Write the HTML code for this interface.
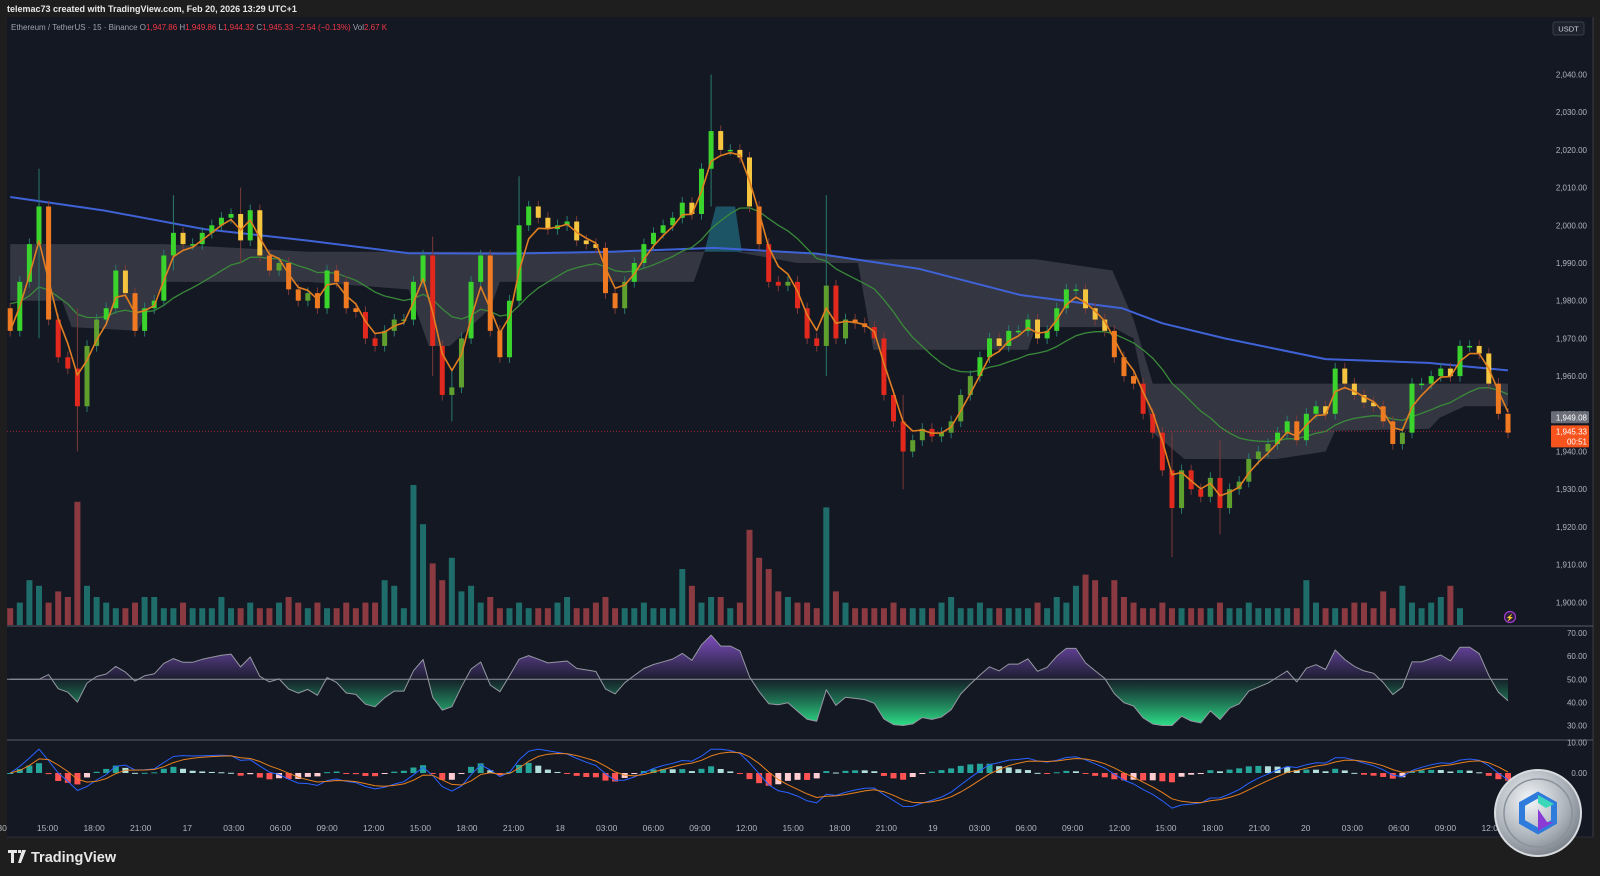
<!DOCTYPE html>
<html><head><meta charset="utf-8"><style>
html,body{margin:0;padding:0;background:#1e1e1f;}
svg{display:block;font-family:"Liberation Sans",sans-serif;}
</style></head><body>
<svg id="chart" width="1600" height="876" viewBox="0 0 1600 876" xmlns="http://www.w3.org/2000/svg">
<defs>
<linearGradient id="rsiUp" x1="0" y1="633" x2="0" y2="679" gradientUnits="userSpaceOnUse"><stop offset="0" stop-color="#8a4fd0" stop-opacity="0.95"/><stop offset="1" stop-color="#7e57c2" stop-opacity="0.08"/></linearGradient>
<linearGradient id="rsiDn" x1="0" y1="679" x2="0" y2="727" gradientUnits="userSpaceOnUse"><stop offset="0" stop-color="#26c281" stop-opacity="0.05"/><stop offset="1" stop-color="#2ee68a" stop-opacity="1"/></linearGradient>
<clipPath id="clipAbove"><rect x="0" y="626" width="1600" height="53"/></clipPath>
<clipPath id="clipBelow"><rect x="0" y="679" width="1600" height="61"/></clipPath>
<clipPath id="clipRsi"><rect x="7" y="627" width="1506" height="112"/></clipPath>
<clipPath id="clipMain"><rect x="7" y="17" width="1506" height="609"/></clipPath>
<clipPath id="clipMacd"><rect x="7" y="741" width="1506" height="78"/></clipPath>
<radialGradient id="coinG" cx="0.4" cy="0.35" r="0.75"><stop offset="0" stop-color="#f4f6f8"/><stop offset="0.6" stop-color="#a9b0b8"/><stop offset="1" stop-color="#6c737c"/></radialGradient>
</defs>
<rect x="0" y="0" width="1600" height="876" fill="#1e1e1f"/>
<text x="7" y="12" font-size="9" font-weight="bold" fill="#e8e8e8">telemac73 created with TradingView.com, Feb 20, 2026 13:29 UTC+1</text>
<rect x="7" y="17" width="1586" height="820" fill="#141823"/>
<text x="11" y="30" font-size="8" fill="#9ea2ad">Ethereum / TetherUS · 15 · Binance  O<tspan fill="#f23645">1,947.86</tspan>  H<tspan fill="#f23645">1,949.86</tspan>  L<tspan fill="#f23645">1,944.32</tspan>  C<tspan fill="#f23645">1,945.33</tspan>  <tspan fill="#f23645">−2.54 (−0.13%)</tspan>  Vol<tspan fill="#f23645">2.67 K</tspan></text>
<rect x="1553" y="22" width="31" height="13" rx="2" fill="#1e222d" stroke="#3a3e4a"/>
<text x="1568.5" y="31.5" font-size="7.5" fill="#d1d4dc" text-anchor="middle">USDT</text>
<line x1="1593" y1="17" x2="1593" y2="837" stroke="#3a3d46"/>
<line x1="7" y1="626" x2="1593" y2="626" stroke="#5a5d66"/>
<line x1="7" y1="740" x2="1593" y2="740" stroke="#5a5d66"/>
<line x1="7" y1="837" x2="1593" y2="837" stroke="#2a2d36"/>
<g id="gBand" clip-path="url(#clipMain)"></g>
<g id="gVol"></g>
<g id="gLines" clip-path="url(#clipMain)"></g>
<g id="gCandles" clip-path="url(#clipMain)"></g>
<g id="gRsi" clip-path="url(#clipRsi)"></g>
<g id="gMacd" clip-path="url(#clipMacd)"></g>
<g id="gAxis"></g>
<g id="gTime"></g>
<g id="gTags"></g>
<g>
<path d="M8 850 h9 v3 h-3 v10 h-3 v-10 h-3z M18 850 h3 v3 h-3z M22 850 h4 l-5 13 h-3z" fill="#e8e8e8"/>
<text x="31" y="862" font-size="14.5" font-weight="bold" fill="#e8e8e8">TradingView</text>
</g>
<g>
<circle cx="1538" cy="813" r="43" fill="url(#coinG)" stroke="#d8dce0" stroke-width="2"/>
<circle cx="1538" cy="813" r="34" fill="none" stroke="#8a929b" stroke-width="1.5"/>
<polygon points="1538,795 1554,804 1554,822 1538,831 1522,822 1522,804" fill="none" stroke="#2f7bdc" stroke-width="6"/>
<polygon points="1538,809 1547,822 1554,822 1538,831" fill="#8a3bd6"/>
<polygon points="1538,795 1554,804 1546,808 1538,803" fill="#3ad8b8"/>
</g>
<g><circle cx="1510" cy="617" r="5.5" fill="#2a1f3a" stroke="#a03ad0" stroke-width="1.2"/><text x="1510" y="620" font-size="7" fill="#c060f0" text-anchor="middle">⚡</text></g>
</svg>
<script>
const closes=[1972,1985,1995,2005,1975,1965,1962,1952,1968,1975,
1978,1988,1982,1972,1978,1980,1992,1998,1995,1995,
1998,2000,2002,2003,1996,2004,1992,1988,1990,1983,
1980,1982,1978,1988,1985,1978,1977,1970,1968,1972,
1975,1975,1985,1992,1968,1955,1957,1970,1985,1992,
1972,1965,1980,2000,2005,2002,1999,2000,2001,1996,
1995,1994,1982,1978,1985,1990,1995,1998,2000,2002,
2006,2003,2015,2025,2020,2020,2018,2005,1995,1985,
1984,1985,1978,1970,1968,1984,1970,1975,1974,1973,
1970,1955,1948,1940,1943,1946,1944,1945,1948,1955,
1960,1965,1970,1968,1972,1972,1975,1970,1972,1978,
1983,1983,1978,1975,1972,1965,1960,1958,1950,1945,
1935,1925,1935,1930,1928,1933,1925,1930,1932,1938,
1940,1942,1945,1948,1943,1950,1952,1950,1962,1958,
1955,1953,1952,1948,1942,1945,1958,1958,1960,1962,
1960,1968,1968,1966,1958,1950,1945];
const firstOpen=1978;
const spikeIdx=[3,7,17,24,44,46,53,73,85,93,121,126];
const spikeHigh=[2015,1978,2008,2010,1997,1962,2013,2040,2008,1955,1945,1943];
const spikeLow=[1970,1940,1988,1990,1960,1948,1980,2005,1960,1930,1912,1918];
const volumes=[3,4,8,7,4,6,5,22,7,5,4,3,3,4,5,5,3,3,4,3,3,3,5,3,3,4,3,3,4,5,4,3,4,3,3,4,3,4,4,8,
7,3,25,18,11,8,12,6,7,4,5,3,3,4,3,3,3,4,5,3,3,4,5,3,3,3,4,3,3,3,10,7,4,5,5,3,4,17,12,10,
6,5,4,4,3,21,6,4,3,3,3,3,4,3,3,3,3,4,5,3,3,4,3,3,3,3,3,4,3,5,4,7,9,8,5,8,5,4,3,3,
4,3,3,3,3,3,4,3,3,4,3,3,3,3,3,8,4,3,3,3,4,4,3,6,3,7,4,3,4,5,7,3];
const blueIdx=[0,9.6,20.2,30.8,41.5,52,62.7,73.3,84,94.6,105.2,115.8,120,126.5,137,147.7,156];
const blueVal=[2007.5,2004,1999,1996,1992.6,1992.5,1993,1994,1992.5,1988.5,1981.5,1978,1974,1970,1964.5,1963.5,1961.5];
const bandIdx=[0,5.4,6.4,13.3,16,31,41.5,43.6,45.8,50,51,71.2,72.3,75.5,82,88.3,89.9,106,106.8,114.8,117,119,122.3,131.9,137,138,147.8,148.9,151.5,156];
const bandUpper=[1995,1995,1995,1995,1995,1993,1993,1993,1993,1993,1993,1993,1993,1993,1993,1991,1991,1991,1991,1988,1975,1958,1958,1958,1958,1958,1958,1958,1958,1958];
const bandLower=[1980,1980,1973,1972,1985,1985,1983,1968,1968,1978,1985,1985,1993,1993,1990,1990,1967,1967,1973,1973,1970,1945,1938,1938,1940,1945.5,1946,1949,1952,1952];
const tealIdx=[72.3,73.5,75.5,76.2];
const tealTop=[1993,2005,2005,1993];
const priceTicks=[2040,2030,2020,2010,2000,1990,1980,1970,1960,1950,1940,1930,1920,1910,1900];
const rsiTicks=[70,60,50,40,30];
const macdTicks=[10,0];
const timeLabels=[":30","15:00","18:00","21:00","17","03:00","06:00","09:00","12:00","15:00","18:00","21:00","18","03:00","06:00","09:00","12:00","15:00","18:00","21:00","19","03:00","06:00","09:00","12:00","15:00","18:00","21:00","20","03:00","06:00","09:00","12:00"];
const lastPrice=1945.33, prevTag=1949.08;

const NS="http://www.w3.org/2000/svg";
function mk(tag,attrs,parent){const e=document.createElementNS(NS,tag);for(const k in attrs)e.setAttribute(k,attrs[k]);parent.appendChild(e);return e;}
const n=closes.length;
const X0=10.2,X1=1508;
const xS=i=>X0+i*(X1-X0)/(n-1);
const yP=p=>74.5+(2040-p)*3.77;
const yR=v=>633+(70-v)*2.3125;
const yM=v=>773-v*3.05;
const yV=v=>625-v*5.6;
const opens=closes.map((c,i)=>i===0?firstOpen:closes[i-1]);
function ema(arr,p,seed){const k=2/(p+1);let e=seed!==undefined?seed:arr[0];return arr.map(v=>(e=v*k+e*(1-k)));}
const emaFast=ema(closes,3);
const emaSlow=ema(closes,19,1980);
const gBand=document.getElementById('gBand'),gVol=document.getElementById('gVol'),gLines=document.getElementById('gLines'),gC=document.getElementById('gCandles');

let pts=bandIdx.map((b,i)=>xS(b)+','+yP(bandUpper[i]));
let pts2=bandIdx.map((b,i)=>xS(b)+','+yP(bandLower[i])).reverse();
const band=mk('polygon',{points:pts.concat(pts2).join(' '),fill:'#3a3c48','fill-opacity':'0.85'},gBand);


const teal=mk('polygon',{points:tealIdx.map((b,i)=>xS(b)+','+yP(tealTop[i])).join(' ')+' '+xS(tealIdx[3])+','+yP(1993)+' '+xS(tealIdx[0])+','+yP(1993),fill:'#1d5b6e','fill-opacity':'0.9'},gBand);



closes.forEach((c,i)=>{
 const up=c>=opens[i];
 const r=mk('rect',{x:xS(i)-3,y:yV(volumes[i]),width:6,height:625-yV(volumes[i]),fill:up?'#1f6d6a':'#8a3a40'},gVol);
 
 
});

function line(xs,ys,color,w,name,parent){const d=xs.map((x,i)=>(i?'L':'M')+x.toFixed(1)+' '+ys[i].toFixed(1)).join(' ');const p=mk('path',{d:d,fill:'none',stroke:color,'stroke-width':w,'stroke-linejoin':'round'},parent);return p;}
line(blueIdx.map(xS),blueVal.map(yP),'#3f63d6',2,'ma-200-line',gLines);
line(closes.map((c,i)=>xS(i)),emaSlow.map(yP),'#3a8a3a',1.3,'ma-50-line',gLines);
const pl=mk('line',{x1:7,x2:1513,y1:yP(lastPrice),y2:yP(lastPrice),stroke:'#f23645','stroke-opacity':'0.6','stroke-dasharray':'1 2'},gLines);



closes.forEach((c,i)=>{
 const o=opens[i];let hi=Math.max(o,c)+1.5,lo=Math.min(o,c)-1.5;
 const s=spikeIdx.indexOf(i);if(s>=0){hi=Math.max(hi,spikeHigh[s]);lo=Math.min(lo,spikeLow[s]);}
 let col;
 if(c>=o){col=c>emaSlow[i]?'#3ad42c':'#5f9f2e';}
 else{col=c>emaSlow[i]?'#f5c53f':(c>emaSlow[i]-12?'#f07a22':'#e3281d');}
 const x=xS(i);
 const w=mk('line',{x1:x,x2:x,y1:yP(hi),y2:yP(lo),stroke:c>=o?'#2a7a6e':'#7a3a3a','stroke-width':1},gC);
 
 
 const top=yP(Math.max(o,c)),bot=yP(Math.min(o,c));
 const b=mk('rect',{x:x-2.5,y:top,width:5,height:Math.max(1.5,bot-top),fill:col},gC);
 
 
});
line(closes.map((c,i)=>xS(i)),emaFast.map(yP),'#e07f22',1.6,'ema-fast-line',gC);

const gR=document.getElementById('gRsi');
const P=11;let ag=0,al=0;const rsi=[50];
for(let i=1;i<n;i++){const d=closes[i]-closes[i-1];const g=Math.max(d,0),l=Math.max(-d,0);
 if(i<=P){ag+=g/P;al+=l/P;}else{ag=(ag*(P-1)+g)/P;al=(al*(P-1)+l)/P;}
 const rs=al===0?100:ag/al;let v=i<4?50:100-100/(1+rs);v=50+(v-50)*0.85;rsi.push(Math.max(30,Math.min(70,v)));}
const rx=rsi.map((v,i)=>xS(i)),ry=rsi.map(yR);
const area='M'+rx[0]+' '+yR(50)+' '+rx.map((x,i)=>'L'+x.toFixed(1)+' '+ry[i].toFixed(1)).join(' ')+' L'+rx[n-1]+' '+yR(50)+' Z';
const a1=mk('path',{d:area,fill:'url(#rsiUp)','clip-path':'url(#clipAbove)'},gR);


const a2=mk('path',{d:area,fill:'url(#rsiDn)','clip-path':'url(#clipBelow)'},gR);


const mid=mk('line',{x1:7,x2:xS(n-1),y1:yR(50),y2:yR(50),stroke:'#8d909a','stroke-width':1},gR);


line(rx,ry,'#9598a1',1,'rsi-line',gR);

const gMc=document.getElementById('gMacd');
const e1=ema(closes,5),e2=ema(closes,11);
const macd=closes.map((c,i)=>e1[i]-e2[i]);
const sig=ema(macd,4,0);
const hist=macd.map((m,i)=>m-sig[i]);
hist.forEach((h,i)=>{
 const prev=i?hist[i-1]:0;
 const col=h>=0?(h>=prev?'#26a69a':'#b2dfdb'):(h<prev?'#ff5252':'#ffcdd2');
 const y0=yM(0),y1=yM(h);
 const r=mk('rect',{x:xS(i)-3,y:Math.min(y0,y1),width:6,height:Math.max(1,Math.abs(y1-y0)),fill:col},gMc);
 
 
});
line(closes.map((c,i)=>xS(i)),macd.map(yM),'#2962ff',1,'macd-line',gMc);
line(closes.map((c,i)=>xS(i)),sig.map(yM),'#e8811f',1,'signal-line',gMc);

const gA=document.getElementById('gAxis');
priceTicks.forEach(p=>{const t=mk('text',{x:1587,y:yP(p)+3,'font-size':'8','fill':'#b2b5be','text-anchor':'end'},gA);t.textContent=p.toLocaleString('en-US',{minimumFractionDigits:2});
 
 });
rsiTicks.forEach(v=>{const t=mk('text',{x:1587,y:yR(v)+3,'font-size':'8','fill':'#b2b5be','text-anchor':'end'},gA);t.textContent=v.toFixed(2);
 
 });
macdTicks.forEach(v=>{const t=mk('text',{x:1587,y:yM(v)+3,'font-size':'8','fill':'#b2b5be','text-anchor':'end'},gA);t.textContent=v.toFixed(2);
 
 });
const gT=document.getElementById('gTime');
timeLabels.forEach((s,i)=>{const t=mk('text',{x:47.5+(i-1)*46.6,y:831,'font-size':'8.5','fill':'#b2b5be','text-anchor':'middle'},gT);t.textContent=s;
 
 });

const gG=document.getElementById('gTags');
const r1=mk('rect',{x:1551,y:yP(prevTag)-6,width:38,height:12,fill:'#6b6e78',rx:1},gG);


const t1=mk('text',{x:1587,y:yP(prevTag)+3,'font-size':'8','fill':'#ffffff','text-anchor':'end'},gG);t1.textContent=prevTag.toLocaleString('en-US',{minimumFractionDigits:2});


const r2=mk('rect',{x:1551,y:yP(lastPrice)-6,width:38,height:22,fill:'#f7531d',rx:1},gG);


const t2=mk('text',{x:1587,y:yP(lastPrice)+3,'font-size':'8','fill':'#ffffff','text-anchor':'end'},gG);t2.textContent=lastPrice.toLocaleString('en-US',{minimumFractionDigits:2});


const t3=mk('text',{x:1587,y:yP(lastPrice)+13,'font-size':'8','fill':'#ffffff','text-anchor':'end'},gG);t3.textContent='00:51';


</script>
</body></html>
